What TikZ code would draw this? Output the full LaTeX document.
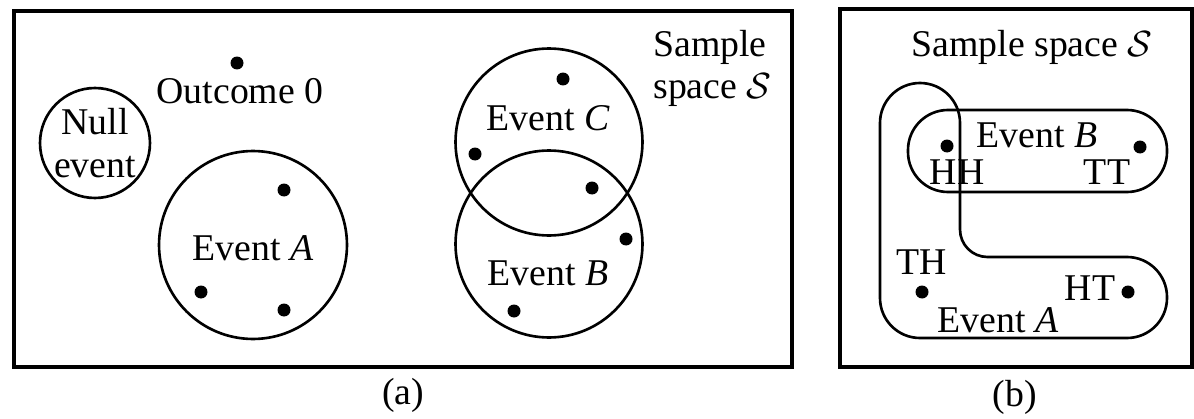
\documentclass[tikz,border=0pt]{standalone}
\usepackage{fontspec}
\setmainfont{Liberation Serif}
\usepackage{tikz}
\tikzset{
  frame/.style={draw, line width=1.8pt},
  eventset/.style={circle, draw, line width=1.5pt, inner sep=0pt},
  outcome/.style={circle, fill=black, inner sep=0pt, minimum size=0.26cm},
  lbl/.style={inner sep=0pt, font=\fontsize{21.5}{24}\selectfont},
  blob/.style={draw, line width=1.5pt, rounded corners=0.8cm}
}

\begin{document}
\begin{tikzpicture}[x=0.02cm, y=-0.02cm]
  \useasboundingbox (0,0) rectangle (1194,419);

  % (a)
  \draw[frame] (14,11) rectangle (792,367);
  \node[lbl] (capa) at (403,395) {(a)};
  \node[lbl, anchor=west, align=left] (spacea) at (653,68) {Sample\\space $\mathcal{S}$};

  \node[eventset, minimum size=2.2cm] (null) at (95,143) {};
  \node[lbl, align=center] (nulltxt) at (95,143) {Null\\event};

  \node[outcome] (o0) at (237,63) {};
  \node[lbl] (o0txt) at (240,91) {Outcome 0};

  \node[eventset, minimum size=3.76cm] (evA) at (253,245) {};
  \node[lbl] (evAtxt) at (253,248) {Event \textit{A}};
  \node[outcome] (a1) at (284,190) {};
  \node[outcome] (a2) at (201,292) {};
  \node[outcome] (a3) at (284,310) {};

  \node[eventset, minimum size=3.74cm] (evC) at (549,142) {};
  \node[eventset, minimum size=3.74cm] (evB) at (549,244) {};
  \node[lbl] (evCtxt) at (548,118) {Event \textit{C}};
  \node[lbl] (evBtxt) at (548,273) {Event \textit{B}};
  \node[outcome] (c1) at (563,79) {};
  \node[outcome] (c2) at (475,154) {};
  \node[outcome] (bc) at (592,188) {};
  \node[outcome] (b1) at (626,239) {};
  \node[outcome] (b2) at (514,311) {};

  % (b)
  \draw[frame] (840,9) rectangle (1192,367);
  \node[lbl] (capb) at (1015,397) {(b)};
  \node[lbl] (spaceb) at (1032,47) {Sample space $\mathcal{S}$};

  \draw[blob] (908,110) rectangle (1167,192);
  \draw[blob] (960,150) -- (960,83) -- (880,83) -- (880,338) -- (1167,338)
    -- (1167,257) [rounded corners=0.55cm] -- (960,257) -- cycle;

  \node[lbl] (evBbtxt) at (1037,135) {Event \textit{B}};
  \node[outcome] (hh) at (947,146) {};
  \node[lbl] (hhtxt) at (957,172) {HH};
  \node[outcome] (tt) at (1140,147) {};
  \node[lbl] (tttxt) at (1107,172) {TT};
  \node[lbl] (thtxt) at (922,262) {TH};
  \node[outcome] (th) at (922,292) {};
  \node[lbl] (httxt) at (1090,288) {HT};
  \node[outcome] (ht) at (1128,292) {};
  \node[lbl] (evAbtxt) at (998,320) {Event \textit{A}};
\end{tikzpicture}
\end{document}
